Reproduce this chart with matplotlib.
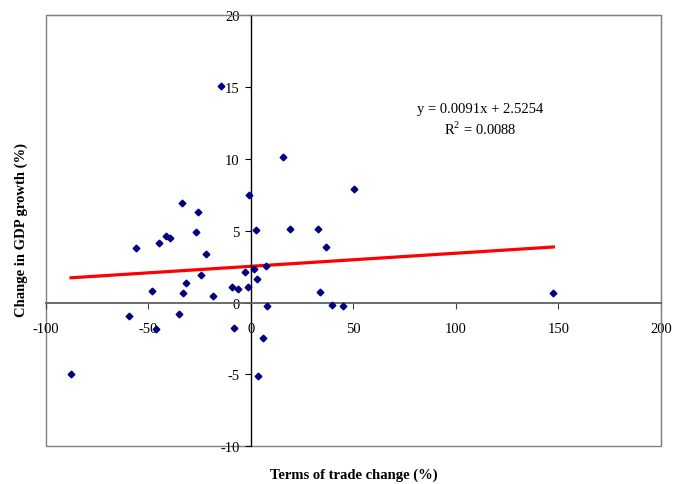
import numpy as np
import matplotlib.pyplot as plt
from matplotlib.patches import Rectangle

plt.rcParams['font.family'] = ['Liberation Serif', 'DejaVu Serif']
plt.rcParams['mathtext.fontset'] = 'custom'
plt.rcParams['mathtext.rm'] = 'Liberation Serif'

# terms of trade change (%) and change in GDP growth (%)
tot = [-87.8, -59.4, -55.9, -48.1, -46.5, -44.7, -41.5, -39.4, -35.1, -33.5,
       -33.2, -31.6, -27.0, -26.0, -24.2, -22.0, -18.4, -14.8, -9.1, -8.4,
       -6.3, -2.8, -1.6, -0.8, 1.6, 2.3, 2.8, 3.3, 6.0, 7.3,
       7.8, 15.6, 18.9, 32.7, 33.8, 36.7, 39.4, 44.9, 50.2, 147.6]
gdp = [-5.0, -0.92, 3.81, 0.82, -1.84, 4.12, 4.63, 4.51, -0.80, 6.95,
       0.66, 1.38, 4.93, 6.32, 1.89, 3.38, 0.47, 15.07, 1.06, -1.80,
       0.92, 2.12, 1.08, 7.48, 2.35, 5.07, 1.66, -5.09, -2.47, 2.56,
       -0.22, 10.15, 5.14, 5.11, 0.75, 3.84, -0.15, -0.22, 7.88, 0.64]

slope = 0.0091
intercept = 2.5254
r2 = 0.0088

xticks = [-100, -50, 0, 50, 100, 150, 200]
yticks = [-10, -5, 0, 5, 10, 15, 20]

fig = plt.figure(figsize=(6.77, 4.85), dpi=100)
ax = fig.add_axes([0.068, 0.0777, 0.908, 0.889])

ax.set_xlim(-100, 200)
ax.set_ylim(-10, 20)

# trend line
x_fit = np.array([min(tot), max(tot)])
ax.plot(x_fit, slope * x_fit + intercept, color='#ff0000', lw=2.3, zorder=2)

ax.plot(tot, gdp, linestyle='none', marker='D', ms=3.4,
        color='#000080', zorder=3)

# axes crossing at zero
ax.spines['left'].set_position(('data', 0))
ax.spines['bottom'].set_position(('data', 0))
ax.spines['left'].set_color('black')
ax.spines['bottom'].set_color('#606060')
ax.spines['left'].set_linewidth(1.0)
ax.spines['bottom'].set_linewidth(1.3)
ax.spines['top'].set_color('#808080')
ax.spines['right'].set_color('#808080')

# outer frame
ax.add_patch(Rectangle((0, 0), 1, 1, transform=ax.transAxes, fill=False,
                       edgecolor='#808080', lw=1.0, clip_on=False, zorder=0))

ax.set_xticks(xticks)
ax.set_yticks(yticks)
ax.set_xticklabels([str(v) for v in xticks])
ax.set_yticklabels([str(v) for v in yticks])
ax.tick_params(axis='x', direction='out', length=4, pad=10, labelsize=10.5,
               color='#404040')
ax.tick_params(axis='y', direction='out', length=4, pad=4, labelsize=10.5)

fig.text(0.523, 0.02, 'Terms of trade change (%)', ha='center', va='center',
         fontsize=10.5, fontweight='bold')
fig.text(0.032, 0.525, 'Change in GDP growth (%)', ha='center', va='center',
         rotation=90, fontsize=10.5, fontweight='bold')

ax.text(111.7, 13.5, 'y = 0.0091x + 2.5254', ha='center', va='center',
        fontsize=10.5)
ax.text(111.7, 12.1, r'R$^{2}$ = 0.0088', ha='center', va='center',
        fontsize=10.5)

fig.savefig('out.png', dpi=100)
